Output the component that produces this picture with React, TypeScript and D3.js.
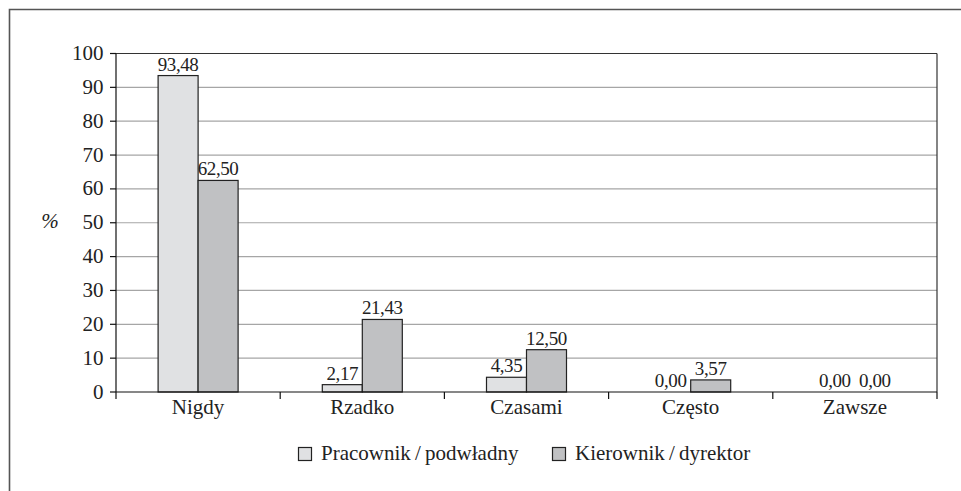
import React from "react";
import * as d3 from "d3";

const categories = ["Nigdy", "Rzadko", "Czasami", "Często", "Zawsze"];
const seriesNames = ["Pracownik\u2009/\u2009podwładny", "Kierownik\u2009/\u2009dyrektor"];
const pracownik = [93.48, 2.17, 4.35, 0.0, 0.0];
const kierownik = [62.5, 21.43, 12.5, 3.57, 0.0];
const yTicks = [0, 10, 20, 30, 40, 50, 60, 70, 80, 90, 100];

const W = 961;
const H = 491;
const plot = { left: 116, right: 937, top: 53.5, bottom: 392 };
const colors = ["#e0e1e3", "#c0c1c3"];
const FONT = '"Liberation Serif", "Times New Roman", serif';

export default function App() {
  const x = d3.scaleBand<string>().domain(categories).range([plot.left, plot.right]).paddingInner(0).paddingOuter(0);
  const y = d3.scaleLinear().domain([0, 100]).range([plot.bottom, plot.top]);
  const barW = 40;
  const series = [pracownik, kierownik];
  const fmt = (v: number) => v.toFixed(2).replace(".", ",");

  return (
    <svg width={W} height={H} style={{ position: "absolute", left: 0, top: 0, background: "#fff" }}>
      <g style={{ fontFamily: FONT }}>
        {/* outer frame */}
        <path d={`M9.5,${H} V9.5 H${W}`} fill="none" stroke="#555" strokeWidth={1.6} />

        {/* gridlines */}
        {yTicks.filter((t) => t > 0).map((t) => (
          <line key={t} x1={plot.left} x2={plot.right} y1={y(t)} y2={y(t)} stroke="#a6a6a6" strokeWidth={1.2} />
        ))}
        {/* plot border */}
        <line x1={plot.left} x2={plot.right} y1={plot.top} y2={plot.top} stroke="#333" strokeWidth={1} />
        <line x1={plot.right} x2={plot.right} y1={plot.top} y2={plot.bottom} stroke="#333" strokeWidth={1.2} />

        {/* bars */}
        {categories.map((c, i) => {
          const cx = (x(c) ?? 0) + x.bandwidth() / 2;
          return series.map((s, j) => {
            const v = s[i];
            const bx = cx - barW + j * barW;
            return (
              <g key={`${c}-${j}`}>
                {v > 0 && (
                  <rect x={bx} y={y(v)} width={barW} height={y(0) - y(v)} fill={colors[j]} stroke="#222" strokeWidth={1.2} />
                )}
                <text x={bx + barW / 2} y={y(v) - 5} textAnchor="middle" fontSize={19} letterSpacing={-0.4} fill="#222">
                  {fmt(v)}
                </text>
              </g>
            );
          });
        })}

        {/* y axis */}
        <line x1={plot.left} x2={plot.left} y1={plot.top} y2={plot.bottom} stroke="#111" strokeWidth={1.2} />
        {yTicks.map((t) => (
          <g key={t}>
            <line x1={plot.left - 6} x2={plot.left} y1={y(t)} y2={y(t)} stroke="#111" strokeWidth={1.2} />
            <text x={103.5} y={y(t) + 6.5} textAnchor="end" fontSize={21} fill="#222">
              {t}
            </text>
          </g>
        ))}
        <text x={50} y={228} textAnchor="middle" fontSize={21} fill="#222" fontStyle="italic">
          %
        </text>

        {/* x axis */}
        <line x1={plot.left} x2={plot.right} y1={plot.bottom} y2={plot.bottom} stroke="#111" strokeWidth={1.2} />
        {[...categories.map((c) => x(c) ?? 0), plot.right].map((px, i) => (
          <line key={i} x1={px} x2={px} y1={plot.bottom} y2={plot.bottom + 7} stroke="#111" strokeWidth={1.2} />
        ))}
        {categories.map((c) => (
          <text key={c} x={(x(c) ?? 0) + x.bandwidth() / 2} y={414} textAnchor="middle" fontSize={21} fill="#222">
            {c}
          </text>
        ))}

        {/* legend */}
        {seriesNames.map((n, j) => {
          const lx = [298.5, 552.5][j];
          return (
            <g key={n}>
              <rect x={lx} y={447.5} width={13} height={13} fill={colors[j]} stroke="#222" strokeWidth={1.2} />
              <text x={lx + 22.5} y={460} fontSize={21} fill="#222">
                {n}
              </text>
            </g>
          );
        })}
      </g>
    </svg>
  );
}
